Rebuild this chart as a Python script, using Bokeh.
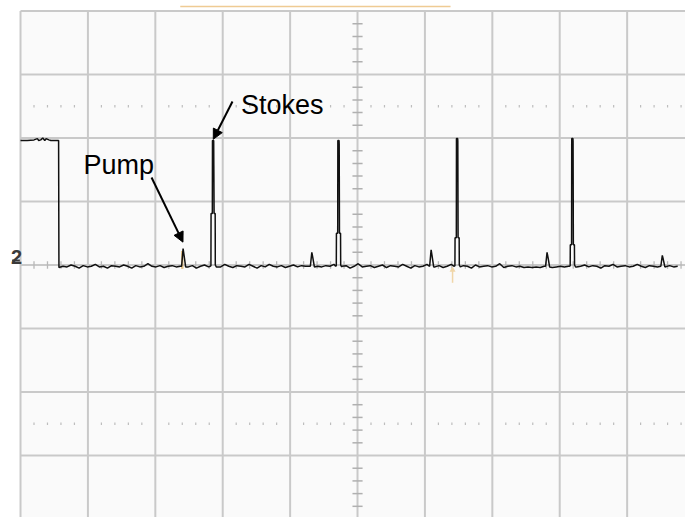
import numpy as np
from bokeh.plotting import figure
from bokeh.models import Range1d, Arrow, NormalHead, Label
from bokeh.embed import file_html
from bokeh.resources import INLINE

# ---------------- data (scope divisions) ----------------
# channel level before the drop
high_t = [0.00, 0.10, 0.20, 0.25, 0.27, 0.30, 0.33, 0.36, 0.38, 0.42, 0.45, 0.52, 0.565]
high_v = [1.96, 1.96, 1.97, 1.99, 1.96, 1.97, 2.00, 1.96, 1.99, 1.97, 1.96, 1.96, 1.96]

# baseline samples (noise)
sample_start = 0.57
sample_step = 0.06
base_v = [
    -0.04, -0.02, -0.03, 0.00, -0.02, -0.05, -0.01, -0.03, -0.02, 0.01, -0.03, -0.02, -0.05, -0.01,
    -0.02, -0.03, 0.00, -0.02, -0.05, -0.01, -0.03, -0.02, 0.02, -0.02, -0.03, -0.01, -0.04, -0.02,
    -0.01, -0.03, -0.02, 0.02, -0.03, -0.01, -0.05, -0.02, 0.00, -0.03, -0.02, -0.01, -0.03, 0.01,
    -0.02, -0.04, -0.01, -0.02, -0.03, 0.01, -0.02, -0.05, -0.01, -0.03, 0.01, -0.02, -0.03, -0.01,
    -0.04, -0.02, 0.00, -0.03, -0.01, -0.02, -0.05, 0.01, -0.02, -0.03, -0.01, -0.02, 0.01, -0.03,
    -0.02, -0.01, -0.05, -0.02, 0.02, -0.03, -0.02, -0.01, -0.04, -0.02, 0.00, -0.04, -0.01, -0.02,
    -0.03, 0.01, -0.02, -0.05, -0.01, -0.03, -0.02, 0.01, -0.02, -0.03, -0.01, -0.04, -0.02, 0.01,
    -0.02, -0.03, -0.01, -0.02, -0.05, 0.00, -0.03, -0.02, -0.01, -0.03, -0.02, 0.02, -0.04, -0.02,
    -0.01, -0.03, -0.02, -0.04, -0.03, -0.04, -0.03, -0.04, -0.02, -0.03, -0.04, -0.03, -0.02, -0.03,
    -0.02, -0.01, -0.03, -0.02, 0.00, -0.03, -0.01, -0.02, -0.05, -0.01, -0.02, 0.01, -0.03, -0.02,
    -0.01, -0.03, -0.02, 0.01, -0.02, -0.04, -0.01, -0.02, -0.03, 0.00, -0.02, -0.01, -0.03, -0.02,
]

# Stokes spikes
stokes_t = [2.86, 4.72, 6.48, 8.19]
stokes_peak = [1.96, 1.96, 1.99, 1.99]
stokes_mid = [1.57, 1.90, 1.95, 1.95]
stokes_shoulder = [0.81, 0.50, 0.43, 0.32]

# small peaks (first one = pump)
small_t = [2.42, 4.33, 6.10, 7.82, 9.53]
small_v = [0.26, 0.20, 0.24, 0.20, 0.15]

# ---------------- build the trace ----------------
base_t = [sample_start + i * sample_step for i in range(len(base_v))]
centers = stokes_t + small_t
pts = list(zip(high_t, high_v))
for t, v in zip(base_t, base_v):
    if all(abs(t - c) > 0.05 for c in centers):
        pts.append((t, v))
for t, pk, md, sh in zip(stokes_t, stokes_peak, stokes_mid, stokes_shoulder):
    pts += [(t - 0.045, -0.02), (t - 0.035, -0.01), (t - 0.033, sh), (t - 0.014, sh),
            (t - 0.012, pk), (t + 0.006, pk), (t + 0.008, md), (t + 0.012, sh),
            (t + 0.028, sh), (t + 0.03, 0.0), (t + 0.045, -0.03)]
for t, v in zip(small_t, small_v):
    pts += [(t - 0.03, -0.02), (t - 0.008, v), (t + 0.006, v * 0.6), (t + 0.03, -0.03)]
pts.sort(key=lambda q: q[0])
trace_t = [a for a, b in pts]
trace_v = [b for a, b in pts]

# ---------------- figure ----------------
p = figure(width=685, height=517,
           x_range=Range1d(-0.297, 9.866), y_range=Range1d(-3.976, 4.165),
           output_backend="svg", toolbar_location=None, min_border=0,
           x_axis_location=None, y_axis_location=None)
p.xgrid.visible = False
p.ygrid.visible = False
p.outline_line_color = None
p.background_fill_color = "white"
p.border_fill_color = "white"

grid_col = "#c9c9c9"
# screen background
p.quad(left=[0], right=[10], bottom=[-4], top=[4], fill_color="#fafafa", line_color=None)

# major grid
gx = list(range(0, 10))
p.segment(x0=gx, y0=[-4] * len(gx), x1=gx, y1=[4] * len(gx), line_color=grid_col, line_width=2)
gy = list(range(-3, 5))
p.segment(x0=[0] * len(gy), y0=gy, x1=[10] * len(gy), y1=gy, line_color=grid_col, line_width=2)

# minor ticks
minor_x = [k * 0.2 for k in range(1, 50) if k % 5]
minor_y = [k * 0.2 for k in range(-20, 21) if k % 5]
# centre horizontal
p.segment(x0=minor_x, y0=[-0.06] * len(minor_x), x1=minor_x, y1=[0.06] * len(minor_x),
          line_color="#b8b8b8", line_width=1.3)
# centre vertical
p.segment(x0=[4.925] * len(minor_y), y0=minor_y, x1=[5.075] * len(minor_y), y1=minor_y,
          line_color="#b0b0b0", line_width=1.5)
# dotted rows
for yy in (2.5, -2.5):
    p.segment(x0=minor_x, y0=[yy - 0.02] * len(minor_x), x1=minor_x, y1=[yy + 0.02] * len(minor_x),
              line_color="#bdbdbd", line_width=1.2)

# orange markers
p.segment(x0=[2.37], y0=[4.07], x1=[6.38], y1=[4.07], line_color="#efcb94", line_width=1.6)
p.segment(x0=[small_t[0] - 0.02], y0=[-0.06], x1=[small_t[0] - 0.02], y1=[0.22],
          line_color="#e6c48a", line_width=2.5)
p.segment(x0=[6.41], y0=[-0.28], x1=[6.41], y1=[-0.09], line_color="#f0d6a8", line_width=1.5)
p.scatter(x=[6.41], y=[-0.08], marker="triangle", size=6, fill_color="#f0d6a8", line_color=None)

# trace
p.line(trace_t, trace_v, line_color="#111111", line_width=1.5)

# "2" channel marker
p.add_layout(Label(x=-0.14, y=0.12, text="2", text_font="Liberation Sans",
                   text_font_size="20px", text_font_style="bold", text_color="#3a3a3a",
                   text_baseline="alphabetic"))
p.segment(x0=[-0.125], y0=[0.07], x1=[-0.01], y1=[0.07], line_color="#3a3a3a", line_width=2)

# annotations
p.add_layout(Label(x=0.935, y=1.567, text="Pump", text_font="Liberation Sans",
                   text_font_size="27px", text_color="black", text_baseline="alphabetic"))
p.add_layout(Label(x=3.27, y=2.512, text="Stokes", text_font="Liberation Sans",
                   text_font_size="27px", text_color="black", text_baseline="alphabetic"))
p.add_layout(Arrow(end=NormalHead(size=10, fill_color="black", line_color="black"),
                   x_start=1.944, y_start=1.378, x_end=small_t[0] - 0.01, y_end=small_v[0] + 0.1,
                   line_color="black", line_width=2))
p.add_layout(Arrow(end=NormalHead(size=10, fill_color="black", line_color="black"),
                   x_start=3.145, y_start=2.575, x_end=stokes_t[0], y_end=stokes_peak[0] + 0.02,
                   line_color="black", line_width=2))

open("out.html", "w").write(file_html(p, INLINE))
